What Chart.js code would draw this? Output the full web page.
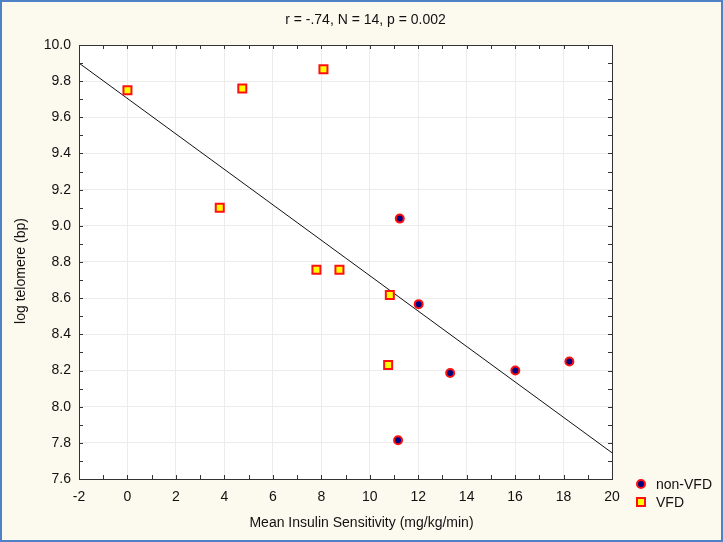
<!DOCTYPE html>
<html>
<head>
<meta charset="utf-8">
<script src="https://cdn.jsdelivr.net/npm/chart.js@4.4.1/dist/chart.umd.min.js"></script>
<style>
  html, body { margin: 0; padding: 0; background: #fcf9ef; }
  #wrap { width: 723px; height: 542px; }
</style>
</head>
<body>
<div id="wrap"><canvas id="chart1" width="723" height="542"></canvas></div>
<script>
// values
var nonVfdX = [11.24, 12.02, 13.32, 16.01, 18.24, 11.17];
var nonVfdY = [9.04, 8.567, 8.186, 8.20, 8.25, 7.814];
var vfdX = [0, 3.81, 4.74, 8.09, 7.80, 8.75, 10.83, 10.76];
var vfdY = [9.75, 9.10, 9.76, 9.866, 8.757, 8.757, 8.617, 8.23];
var fitX = [-2, 20];
var fitY = [9.90, 7.745];

var titleText = "r = -.74, N = 14, p = 0.002";
var xTitle = "Mean Insulin Sensitivity (mg/kg/min)";
var yTitle = "log telomere (bp)";

var FONT = "'Liberation Sans', Arial, sans-serif";

function toPoints(xs, ys) {
  var out = [];
  for (var i = 0; i < xs.length; i++) out.push({x: xs[i], y: ys[i]});
  return out;
}

var frame = {
  id: 'frame',
  beforeDraw: function(chart) {
    var ctx = chart.ctx, a = chart.chartArea;
    ctx.save();
    ctx.fillStyle = '#fcf9ef';
    ctx.fillRect(0, 0, chart.width, chart.height);
    ctx.strokeStyle = '#4f81c7';
    ctx.lineWidth = 2;
    ctx.strokeRect(1, 1, chart.width - 2, chart.height - 2);
    ctx.fillStyle = '#ffffff';
    ctx.fillRect(a.left, a.top, a.right - a.left, a.bottom - a.top);
    ctx.restore();
  },
  afterDraw: function(chart) {
    var ctx = chart.ctx, a = chart.chartArea;
    var xs = chart.scales.x, ys = chart.scales.y;
    ctx.save();
    ctx.strokeStyle = '#333';
    ctx.lineWidth = 1;
    ctx.strokeRect(Math.round(a.left) + 0.5, Math.round(a.top) + 0.5,
                   Math.round(a.right - a.left), Math.round(a.bottom - a.top));
    // inward ticks, every 1 on x and every 0.1 on y
    ctx.beginPath();
    for (var v = -2; v <= 20; v++) {
      var px = Math.round(xs.getPixelForValue(v)) + 0.5;
      ctx.moveTo(px, a.bottom); ctx.lineTo(px, a.bottom - 4);
      ctx.moveTo(px, a.top); ctx.lineTo(px, a.top + 4);
    }
    for (var k = 76; k <= 100; k++) {
      var py = Math.round(ys.getPixelForValue(k / 10)) + 0.5;
      ctx.moveTo(a.left, py); ctx.lineTo(a.left + 4, py);
      ctx.moveTo(a.right, py); ctx.lineTo(a.right - 4, py);
    }
    ctx.stroke();

    ctx.fillStyle = '#111';
    ctx.font = '14px ' + FONT;
    ctx.textAlign = 'center';
    ctx.textBaseline = 'middle';
    // chart title
    ctx.fillText(titleText, chart.width / 2 + 4, 20);
    // axis titles, centred on the canvas like the original
    ctx.fillText(xTitle, chart.width / 2, a.bottom + 44);
    ctx.save();
    ctx.translate(21, chart.height / 2);
    ctx.rotate(-Math.PI / 2);
    ctx.fillText(yTitle, 0, 0);
    ctx.restore();

    // legend, bottom right outside the plot
    var lx = a.right + 29;
    chart.data.datasets.forEach(function(ds, i) {
      if (!ds.showInLegend) return;
      var ly = a.bottom + 5 + (i) * 18;
      ctx.beginPath();
      if (ds.pointStyle === 'rect') {
        ctx.rect(lx - 4, ly - 4, 8, 8);
      } else {
        ctx.arc(lx, ly, 4, 0, Math.PI * 2);
      }
      ctx.fillStyle = ds.pointBackgroundColor;
      ctx.fill();
      ctx.lineWidth = 2;
      ctx.strokeStyle = ds.pointBorderColor;
      ctx.stroke();
      ctx.fillStyle = '#111';
      ctx.textAlign = 'left';
      ctx.fillText(ds.label, lx + 15, ly + 1);
    });
    ctx.restore();
  }
};

var ctx = document.getElementById('chart1').getContext('2d');
var chart1 = new Chart(ctx, {
  type: 'scatter',
  data: {
    datasets: [{
      label: 'non-VFD',
      showInLegend: true,
      data: toPoints(nonVfdX, nonVfdY),
      pointStyle: 'circle',
      pointRadius: 4,
      pointHoverRadius: 4,
      pointBorderWidth: 2,
      pointBackgroundColor: '#000080',
      pointBorderColor: '#ff1010'
    }, {
      label: 'VFD',
      showInLegend: true,
      data: toPoints(vfdX, vfdY),
      pointStyle: 'rect',
      pointRadius: 5.66,
      pointHoverRadius: 5.66,
      pointBorderWidth: 2,
      pointBackgroundColor: '#ffff00',
      pointBorderColor: '#ff1010'
    }, {
      type: 'line',
      label: 'fit',
      showInLegend: false,
      data: toPoints(fitX, fitY),
      borderColor: '#111',
      borderWidth: 1,
      pointRadius: 0,
      fill: false,
      order: 5
    }]
  },
  options: {
    responsive: false,
    animation: false,
    devicePixelRatio: 1,
    layout: { padding: { left: 0, top: 45, right: 111, bottom: 33 } },
    plugins: {
      legend: { display: false },
      tooltip: { enabled: false },
      title: { display: false }
    },
    scales: {
      x: {
        type: 'linear',
        min: -2, max: 20,
        afterFit: function(s) { s.height = 30; },
        ticks: { stepSize: 2, color: '#111', padding: 10, font: { family: FONT, size: 14 } },
        grid: { color: '#ececec', drawTicks: false },
        border: { display: false }
      },
      y: {
        type: 'linear',
        min: 7.6, max: 10.0,
        afterFit: function(s) { s.width = 79; },
        ticks: {
          stepSize: 0.2, color: '#111', padding: 8,
          font: { family: FONT, size: 14 },
          callback: function(v) { return v.toFixed(1); }
        },
        grid: { color: '#ececec', drawTicks: false },
        border: { display: false }
      }
    }
  },
  plugins: [frame]
});
</script>
</body>
</html>
